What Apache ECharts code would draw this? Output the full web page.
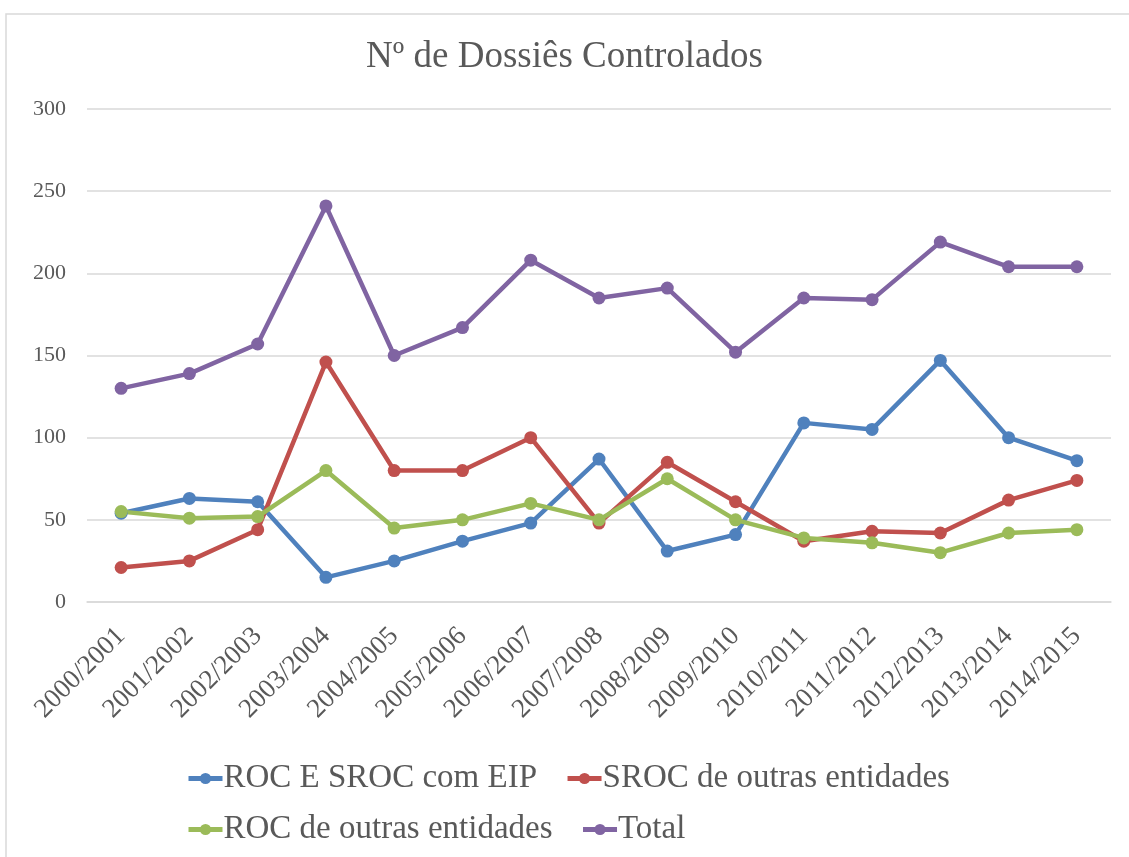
<!DOCTYPE html>
<html><head><meta charset="utf-8">
<script src="https://cdn.jsdelivr.net/npm/echarts@6/dist/echarts.min.js"></script>
<style>html,body{margin:0;padding:0;background:#fff}#c{width:1129px;height:857px}</style>
</head><body><div id="c"></div>
<script>
const categories = ['2000/2001','2001/2002','2002/2003','2003/2004','2004/2005','2005/2006','2006/2007','2007/2008','2008/2009','2009/2010','2010/2011','2011/2012','2012/2013','2013/2014','2014/2015'];
const rocSrocEip = [54,63,61,15,25,37,48,87,31,41,109,105,147,100,86];
const srocOutras = [21,25,44,146,80,80,100,48,85,61,37,43,42,62,74];
const rocOutras = [55,51,52,80,45,50,60,50,75,50,39,36,30,42,44];
const total = [130,139,157,241,150,167,208,185,191,152,185,184,219,204,204];
const names = ['ROC E SROC com EIP','SROC de outras entidades','ROC de outras entidades','Total'];
const colors = ['#4F81BD','#C0504D','#9BBB59','#8064A2'];
const FONT = 'Liberation Serif';
const TXT = '#595959';
const chart = echarts.init(document.getElementById('c'));
const mk = (name, data, color) => ({
  name, type:'line', data, color,
  symbol:'circle', symbolSize:13,
  lineStyle:{width:4.5, color}, itemStyle:{color},
  emphasis:{disabled:true}, animation:false
});
const legendCommon = {
  itemWidth:34, itemHeight:14, itemGap:28,
  lineStyle:{width:5},
  textStyle:{fontFamily:FONT, fontSize:33, color:TXT, padding:[0,0,0,-4]}
};
chart.setOption({
  backgroundColor:'#fff',
  textStyle:{fontFamily:FONT},
  title:{text:'Nº de Dossiês Controlados', left:'center', top:34,
    textStyle:{fontFamily:FONT, fontSize:37, fontWeight:'normal', color:TXT}},
  graphic:[{type:'rect', shape:{x:6,y:14,width:1140,height:860},
    style:{fill:'none', stroke:'#d9d9d9', lineWidth:1.5}, silent:true}],
  legend:[
    Object.assign({left:181, top:757, data:[names[0],names[1]]}, legendCommon),
    Object.assign({left:181, top:808, data:[names[2],names[3]]}, legendCommon)
  ],
  grid:{left:87, right:18, top:109, bottom:255},
  xAxis:{type:'category', data:categories, boundaryGap:true,
    axisLine:{lineStyle:{color:'#d9d9d9', width:1.5}}, axisTick:{show:false},
    axisLabel:{rotate:45, interval:0, fontFamily:FONT, fontSize:27, color:TXT, margin:30}},
  yAxis:{type:'value', min:0, max:300, interval:50,
    axisLine:{show:false}, axisTick:{show:false},
    splitLine:{lineStyle:{color:'#d9d9d9', width:1.5}},
    axisLabel:{fontFamily:FONT, fontSize:22, color:TXT, margin:21}},
  series:[mk(names[0],rocSrocEip,colors[0]), mk(names[1],srocOutras,colors[1]), mk(names[2],rocOutras,colors[2]), mk(names[3],total,colors[3])]
});
</script></body></html>
